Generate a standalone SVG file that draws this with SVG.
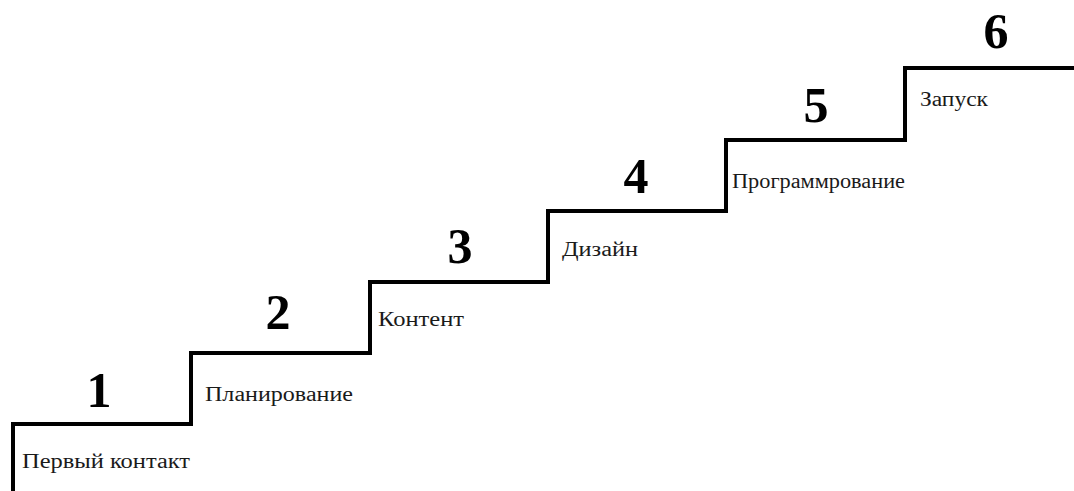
<svg xmlns="http://www.w3.org/2000/svg" width="1074" height="491" viewBox="0 0 1074 491">
<style>
.stair{fill:none;stroke:#000;stroke-width:4;stroke-linejoin:miter}
.num{font-family:"Liberation Serif",serif;font-weight:bold;font-size:50px;fill:#000;text-anchor:middle}
.lbl{font-family:"Liberation Serif",serif;font-size:20px;fill:#1a1a1a}
</style>
<rect width="1074" height="491" fill="#fff"/>
<g id="connectors">
<path class="stair" d="M13,493 V424 H191 V353 H370 V282 H548 V211 H726 V140 H905 V68 H1076"/>
</g>
<g id="step1"><text class="num" x="99" y="407">1</text><text class="lbl" x="22" y="468" textLength="168" lengthAdjust="spacingAndGlyphs">Первый контакт</text></g>
<g id="step2"><text class="num" x="278" y="329">2</text><text class="lbl" x="205" y="401" textLength="148" lengthAdjust="spacingAndGlyphs">Планирование</text></g>
<g id="step3"><text class="num" x="460" y="263">3</text><text class="lbl" x="378" y="326" textLength="86" lengthAdjust="spacingAndGlyphs">Контент</text></g>
<g id="step4"><text class="num" x="636" y="193">4</text><text class="lbl" x="562" y="256" textLength="76" lengthAdjust="spacingAndGlyphs">Дизайн</text></g>
<g id="step5"><text class="num" x="816" y="122">5</text><text class="lbl" x="732" y="188" textLength="173" lengthAdjust="spacingAndGlyphs">Программрование</text></g>
<g id="step6"><text class="num" x="996" y="48">6</text><text class="lbl" x="920" y="106" textLength="68" lengthAdjust="spacingAndGlyphs">Запуск</text></g>
</svg>
